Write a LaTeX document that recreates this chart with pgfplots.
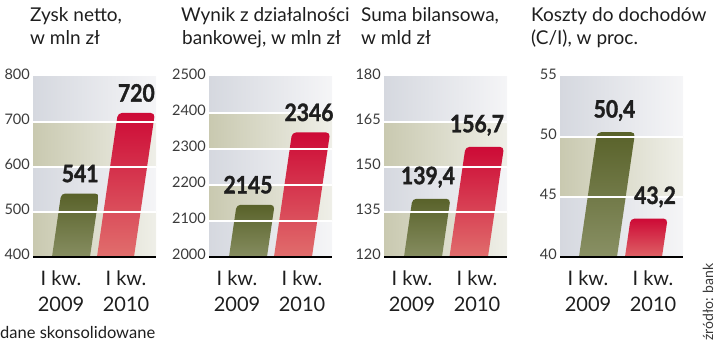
\documentclass[border=0pt]{standalone}
\usepackage{fontspec}
\setmainfont{Lato}
\newfontfamily\valfont{Lato}[BoldFeatures={FakeBold=1.4,FakeStretch=0.88}]
\usepackage{pgfplots}
\pgfplotsset{compat=1.18}
\definecolor{txt}{HTML}{1E1E1E}
\definecolor{tick}{HTML}{3A3A3A}
\definecolor{oliveL}{HTML}{C9C9B0}
\definecolor{oliveR}{HTML}{EFEFE8}
\definecolor{grayL}{HTML}{D5D8DF}
\definecolor{grayR}{HTML}{F5F5F7}
\definecolor{gTop}{HTML}{59622A}
\definecolor{gBot}{HTML}{8C9368}
\definecolor{rTop}{HTML}{CD0A36}
\definecolor{rBot}{HTML}{E27470}
\tikzset{
  gridl/.style={white, line width=1.3pt},
  basel/.style={black, line width=1.6pt},
}
\pgfplotsset{
  panel/.style={
    width=123pt, height=180pt, scale only axis,
    xmin=0, xmax=123,
    axis line style={draw=none}, tick style={draw=none}, major tick length=0pt,
    xtick={28,93},
    xticklabels={{I kw.\\2009},{I kw.\\2010}},
    xticklabel style={align=center, font=\fontsize{20}{26}\selectfont, inner sep=0pt, yshift=-14pt, text=txt},
    yticklabel style={font=\fontsize{14.5}{14.5}\selectfont, inner sep=0pt, xshift=-3pt, yshift=2.5pt, text=tick},
    clip mode=individual,
    anchor=south west,
  },
  b09/.style={draw=none, top color=gTop, bottom color=gBot, rounded corners=4pt, mark=none},
  b10/.style={draw=none, top color=rTop, bottom color=rBot, rounded corners=4pt, mark=none},
  vals/.style={draw=none, mark=none, nodes near coords, point meta=explicit symbolic,
    every node near coord/.append style={font=\valfont\bfseries\fontsize{24}{24}\selectfont, anchor=south, inner sep=0pt, yshift=11pt, text=txt}},
}
\begin{document}
\begin{tikzpicture}
\path[use as bounding box] (0pt,0pt) rectangle (720pt,344pt);
% ---------- Panel 1
\begin{axis}[panel, at={(33pt,87pt)}, ymin=400, ymax=800,
  ytick={400,500,600,700,800}, yticklabels={400,500,600,700,800}]
\fill[left color=oliveL, right color=oliveR] (axis cs:0,400) rectangle (axis cs:123,500);
\fill[left color=grayL, right color=grayR] (axis cs:0,500) rectangle (axis cs:123,600);
\fill[left color=oliveL, right color=oliveR] (axis cs:0,600) rectangle (axis cs:123,700);
\fill[left color=grayL, right color=grayR] (axis cs:0,700) rectangle (axis cs:123,800);
\addplot[b09] coordinates {(17.8,382) (55.8,382) (66.2,541) (28.2,541)} -- cycle;
\addplot[b10] coordinates {(62.8,382) (99.8,382) (121.9,720) (84.9,720)} -- cycle;
\pgfplotsinvokeforeach{500,600,700}{\draw[gridl] (axis cs:0,#1) -- (axis cs:123,#1);}
\draw[basel] (axis cs:0,400) -- (axis cs:123,400);
\addplot[vals] coordinates {(47.2,541) [541] (103.4,720) [720]};
\end{axis}
% ---------- Panel 2
\begin{axis}[panel, at={(209pt,87pt)}, ymin=2000, ymax=2500,
  ytick={2000,2100,2200,2300,2400,2500}, yticklabels={2000,2100,2200,2300,2400,2500}]
\fill[left color=grayL, right color=grayR] (axis cs:0,2000) rectangle (axis cs:123,2100);
\fill[left color=oliveL, right color=oliveR] (axis cs:0,2100) rectangle (axis cs:123,2200);
\fill[left color=grayL, right color=grayR] (axis cs:0,2200) rectangle (axis cs:123,2300);
\fill[left color=oliveL, right color=oliveR] (axis cs:0,2300) rectangle (axis cs:123,2400);
\fill[left color=grayL, right color=grayR] (axis cs:0,2400) rectangle (axis cs:123,2500);
\addplot[b09] coordinates {(18.8,1978) (56.8,1978) (65.6,2145) (27.6,2145)} -- cycle;
\addplot[b10] coordinates {(63.8,1978) (101.8,1978) (121.1,2346) (83.1,2346)} -- cycle;
\pgfplotsinvokeforeach{2100,2200,2300,2400}{\draw[gridl] (axis cs:0,#1) -- (axis cs:123,#1);}
\draw[basel] (axis cs:0,2000) -- (axis cs:123,2000);
\addplot[vals] coordinates {(39,2145) [2145] (100,2346) [2346]};
\end{axis}
% ---------- Panel 3
\begin{axis}[panel, at={(384pt,87pt)}, ymin=120, ymax=180,
  ytick={120,135,150,165,180}, yticklabels={120,135,150,165,180}]
\fill[left color=oliveL, right color=oliveR] (axis cs:0,120) rectangle (axis cs:123,135);
\fill[left color=grayL, right color=grayR] (axis cs:0,135) rectangle (axis cs:123,150);
\fill[left color=oliveL, right color=oliveR] (axis cs:0,150) rectangle (axis cs:123,165);
\fill[left color=grayL, right color=grayR] (axis cs:0,165) rectangle (axis cs:123,180);
\addplot[b09] coordinates {(18.8,117.3) (56.8,117.3) (66.4,139.4) (28.4,139.4)} -- cycle;
\addplot[b10] coordinates {(64.3,117.3) (102.8,117.3) (120,156.7) (81.5,156.7)} -- cycle;
\pgfplotsinvokeforeach{135,150,165}{\draw[gridl] (axis cs:0,#1) -- (axis cs:123,#1);}
\draw[basel] (axis cs:0,120) -- (axis cs:123,120);
\addplot[vals] coordinates {(44,139.4) [{139,4}] (93,156.7) [{156,7}]};
\end{axis}
% ---------- Panel 4
\begin{axis}[panel, at={(560pt,87pt)}, ymin=40, ymax=55,
  ytick={40,45,50,55}, yticklabels={40,45,50,55}]
\fill[left color=grayL, right color=grayR] (axis cs:0,40) rectangle (axis cs:123,45);
\fill[left color=oliveL, right color=oliveR] (axis cs:0,45) rectangle (axis cs:123,50);
\fill[left color=grayL, right color=grayR] (axis cs:0,50) rectangle (axis cs:123,55);
\addplot[b09] coordinates {(17.8,39.33) (55.8,39.33) (75.1,50.4) (37.1,50.4)} -- cycle;
\addplot[b10] coordinates {(63.8,39.33) (100.8,39.33) (107.6,43.2) (70.6,43.2)} -- cycle;
\pgfplotsinvokeforeach{45,50}{\draw[gridl] (axis cs:0,#1) -- (axis cs:123,#1);}
\draw[basel] (axis cs:0,40) -- (axis cs:123,40);
\addplot[vals] coordinates {(54.5,50.4) [{50,4}] (95,43.2) [{43,2}]};
\end{axis}
% ---------- Titles
\begin{scope}[every node/.style={anchor=base west, inner sep=0pt, text=txt, font=\fontsize{19}{23}\selectfont}]
\node at (30pt,322pt) {Zysk netto,};
\node at (30pt,299pt) {w mln zł};
\node at (181pt,322pt) {Wynik z działalności};
\node at (182pt,299pt) {bankowej, w mln zł};
\node at (361pt,322pt) {Suma bilansowa,};
\node at (361pt,299pt) {w mld zł};
\node at (531pt,322pt) {Koszty do dochodów};
\node at (531pt,299pt) {(C/I), w proc.};
\end{scope}
\node[anchor=base west, inner sep=0pt, text=txt, font=\fontsize{16.5}{16.5}\selectfont] at (0pt,5pt) {dane skonsolidowane};
\node[rotate=90, anchor=base west, inner sep=0pt, text=tick, font=\fontsize{14}{14}\selectfont] at (713pt,3pt) {źródło: bank};
\end{tikzpicture}
\end{document}
